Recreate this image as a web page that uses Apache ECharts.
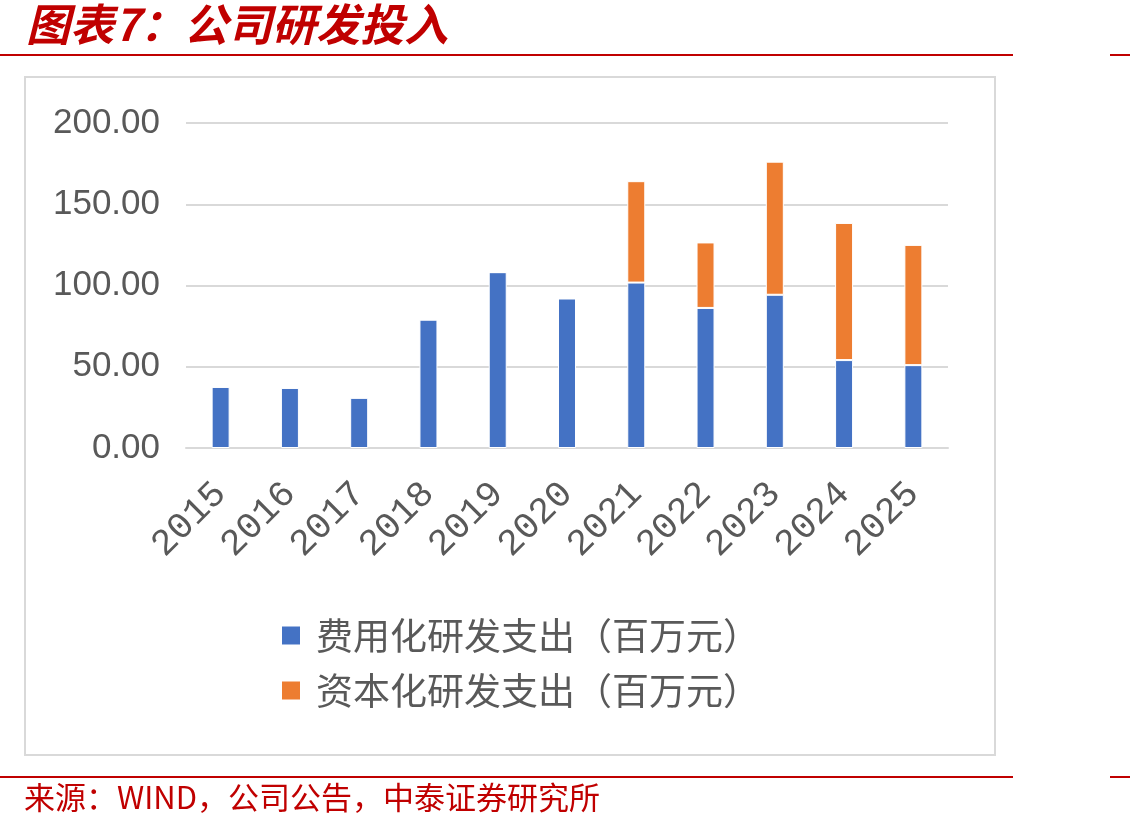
<!DOCTYPE html>
<html>
<head>
<meta charset="utf-8">
<script src="https://cdn.jsdelivr.net/npm/echarts@6/dist/echarts.min.js"></script>
<style>
html,body{margin:0;padding:0;background:#fff;}
#main{width:1130px;height:831px;}
</style>
</head>
<body>
<div id="main"></div>
<script>
// 年份
var years = ['2015','2016','2017','2018','2019','2020','2021','2022','2023','2024','2025'];
// 费用化研发支出（百万元）
var expensed = [37.6, 37.0, 30.9, 79.0, 108.2, 92.0, 101.8, 86.2, 94.3, 54.1, 51.0];
// 资本化研发支出（百万元）
var capitalized = [0, 0, 0, 0, 0, 0, 62.4, 40.3, 81.9, 84.4, 74.0];
var seriesNames = ['费用化研发支出（百万元）', '资本化研发支出（百万元）'];

var red = '#c00000';
var cjk = '"Noto Sans CJK SC", sans-serif';

var myChart = echarts.init(document.getElementById('main'));
var option = {
    backgroundColor: '#fff',
    animation: false,
    graphic: [
        // 标题
        {type: 'text', left: 26, top: 2, style: {text: '图表7：公司研发投入', fill: red, font: 'italic bold 44px ' + cjk}},
        {type: 'line', shape: {x1: 0, y1: 55, x2: 1013, y2: 55}, style: {stroke: red, lineWidth: 2}},
        {type: 'line', shape: {x1: 1110, y1: 55, x2: 1130, y2: 55}, style: {stroke: red, lineWidth: 2}},
        // 图框
        {type: 'rect', shape: {x: 25, y: 77, width: 970, height: 678}, style: {fill: 'none', stroke: '#d9d9d9', lineWidth: 2}, z: -1},
        // 来源
        {type: 'line', shape: {x1: 0, y1: 777, x2: 1013, y2: 777}, style: {stroke: red, lineWidth: 2}},
        {type: 'line', shape: {x1: 1110, y1: 777, x2: 1130, y2: 777}, style: {stroke: red, lineWidth: 2}},
        {type: 'text', left: 24, top: 782, style: {text: '来源：WIND，公司公告，中泰证券研究所', fill: red, font: '31px ' + cjk}}
    ],
    legend: {
        orient: 'vertical',
        left: 275,
        top: 612,
        itemWidth: 20,
        itemHeight: 20,
        itemGap: 18,
        icon: 'rect',
        data: seriesNames,
        textStyle: {fontSize: 37, color: '#595959', fontFamily: cjk, padding: [0, 0, 0, 10]}
    },
    grid: {left: 186, right: 182, top: 123, bottom: 383},
    xAxis: {
        type: 'category',
        data: years,
        axisLine: {lineStyle: {color: '#d9d9d9', width: 2}},
        axisTick: {show: false},
        axisLabel: {interval: 0, rotate: 45, fontSize: 37, color: '#595959', margin: 40, fontFamily: '"Liberation Mono", monospace'}
    },
    yAxis: {
        type: 'value',
        min: 0,
        max: 200,
        interval: 50,
        axisLine: {show: false},
        axisTick: {show: false},
        axisLabel: {
            fontSize: 35, color: '#595959', margin: 26, fontFamily: '"Liberation Sans", sans-serif',
            formatter: function (v) { return v.toFixed(2); }
        },
        splitLine: {lineStyle: {color: '#d9d9d9', width: 2}}
    },
    series: [
        {
            name: seriesNames[0],
            type: 'bar',
            stack: 'rd',
            barWidth: 18,
            data: expensed,
            itemStyle: {color: '#4472c4', borderColor: '#fff', borderWidth: 1}
        },
        {
            name: seriesNames[1],
            type: 'bar',
            stack: 'rd',
            barWidth: 18,
            data: capitalized,
            itemStyle: {color: '#ed7d31', borderColor: '#fff', borderWidth: 1}
        }
    ]
};
myChart.setOption(option);
</script>
</body>
</html>
